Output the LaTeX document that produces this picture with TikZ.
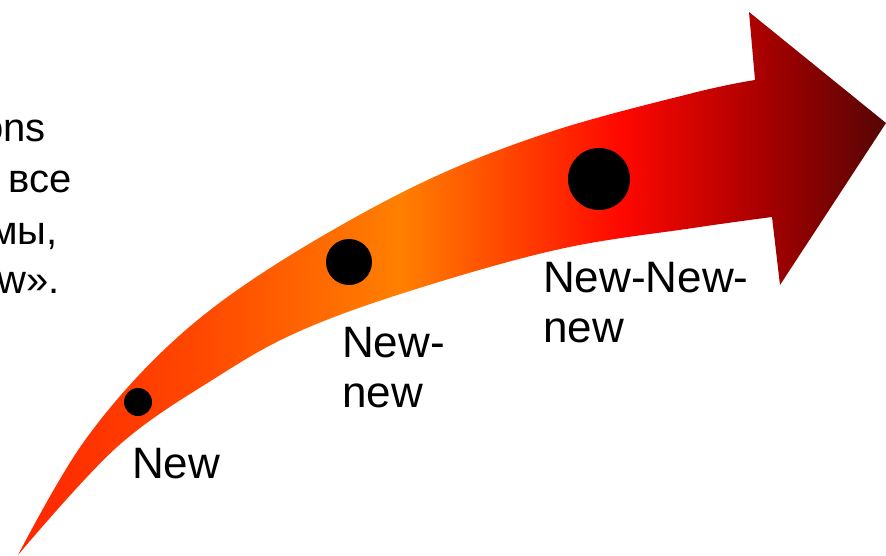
\documentclass[tikz,border=0pt]{standalone}
\usepackage{fontspec}
\setmainfont{Liberation Sans}
\definecolor{s0}{RGB}{255,38,0}
\definecolor{s1}{RGB}{255,72,0}
\definecolor{s2}{RGB}{255,128,0}
\definecolor{s3}{RGB}{255,8,0}
\definecolor{s4}{RGB}{170,0,0}
\definecolor{s5}{RGB}{85,5,5}
\pgfdeclarehorizontalshading{arrowshade}{100bp}{color(0bp)=(s0); color(25bp)=(s0); color(35.5bp)=(s1); color(47bp)=(s2); color(59.7bp)=(s3); color(67.7bp)=(s4); color(75bp)=(s5); color(100bp)=(s5)}
\begin{document}
\begin{tikzpicture}[x=1pt,y=-1pt,
  lbl/.style={inner sep=0, font=\fontsize{44}{50}\selectfont, text=black},
  side/.style={inner sep=0, font=\fontsize{40}{50}\selectfont, text=black},
  dot/.style={circle, fill=black, inner sep=0}]
\useasboundingbox (0,0) rectangle (886,556);
\fill[white] (0,0) rectangle (886,556);
\begin{scope}
\clip (0,0) rectangle (886,556);
\node[side, anchor=base east] (t1) at (46,142) {ons};
\node[side, anchor=base east] (t2) at (72,193) {все};
\node[side, anchor=base east] (t3) at (58,244) {мы,};
\node[side, anchor=base east] (t4) at (60,293) {w».};
\end{scope}
\path[shading=arrowshade]
  plot[smooth, tension=0.6] coordinates {(18,555) (83,443) (167,347) (267,270) (413,187) (547,133) (693,93) (755,80)}
  -- (749,12) -- (886,123) -- (780,285)
  -- plot[smooth, tension=0.6] coordinates {(772,217) (693,228) (560,249) (413,290) (300,331) (217,377) (117,447) (18,555)}
  -- cycle;
\node[dot, minimum size=28pt] (d1) at (138,402) {};
\node[dot, minimum size=46pt] (d2) at (349,262) {};
\node[dot, minimum size=62pt] (d3) at (599,179) {};
\node[lbl, anchor=base west] (l1) at (132,478) {New};
\node[lbl, anchor=base west] (l2) at (342,357) {\vtop{\hbox{New-}\hbox{new}}};
\node[lbl, anchor=base west] (l3) at (543,292) {\vtop{\hbox{New-New-}\hbox{new}}};
\end{tikzpicture}
\end{document}
